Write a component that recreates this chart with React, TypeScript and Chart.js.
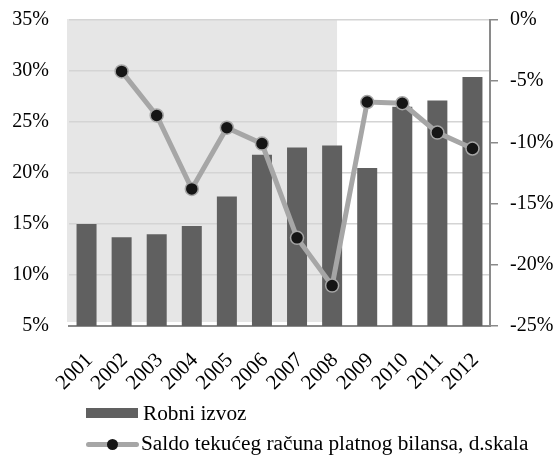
import React, { useEffect, useRef } from "react";
import { Chart, registerables } from "chart.js";

Chart.register(...registerables);

const years = ["2001", "2002", "2003", "2004", "2005", "2006", "2007", "2008", "2009", "2010", "2011", "2012"];
const robniIzvoz = [15.0, 13.7, 14.0, 14.8, 17.7, 21.8, 22.5, 22.7, 20.5, 26.5, 27.1, 29.4];
const saldo: (number | null)[] = [null, -4.2, -7.8, -13.8, -8.8, -10.1, -17.8, -21.7, -6.7, -6.8, -9.2, -10.5];
const leftTicks = [5, 10, 15, 20, 25, 30, 35];
const rightTicks = [-25, -20, -15, -10, -5, 0];
const shadedFromIndex = -0.5;
const shadedToIndex = 7.14;

const FONT = "'Liberation Serif', 'Times New Roman', serif";
const BAR_COLOR = "#606060";
const LINE_COLOR = "#a6a6a6";
const AXIS_COLOR = "#8a8a8a";

const shadePlugin = {
  id: "shade",
  beforeDraw(chart: any) {
    const { ctx, chartArea, scales } = chart;
    const x = scales.x;
    const x0 = x.getPixelForValue(shadedFromIndex) - 2;
    const x1 = x.getPixelForValue(shadedToIndex);
    ctx.save();
    ctx.fillStyle = "#e6e6e6";
    ctx.fillRect(x0, chartArea.top - 1, x1 - x0, chartArea.bottom - chartArea.top - 3);
    ctx.restore();
  },
};

export default function App() {
  const ref = useRef<HTMLCanvasElement | null>(null);

  useEffect(() => {
    if (!ref.current) return;
    const chart = new Chart(ref.current, {
      type: "bar",
      data: {
        labels: years,
        datasets: [
          {
            type: "line",
            label: "Saldo tekućeg računa platnog bilansa, d.skala",
            data: saldo,
            yAxisID: "y1",
            borderColor: LINE_COLOR,
            borderWidth: 5,
            pointRadius: 6.5,
            pointBackgroundColor: "#151515",
            pointBorderColor: LINE_COLOR,
            pointBorderWidth: 1.5,
            tension: 0,
            order: 1,
          } as any,
          {
            type: "bar",
            label: "Robni izvoz",
            data: robniIzvoz,
            yAxisID: "y",
            backgroundColor: BAR_COLOR,
            categoryPercentage: 1,
            barPercentage: 0.57,
            order: 2,
          },
        ],
      },
      options: {
        animation: false,
        responsive: true,
        maintainAspectRatio: false,
        layout: { padding: { top: 20, left: 0, right: 0, bottom: 0 } },
        plugins: { legend: { display: false }, tooltip: { enabled: false } },
        font: { family: FONT },
        scales: {
          x: {
            grid: { display: false },
            border: { display: true, color: AXIS_COLOR, width: 2 },
            ticks: {
              font: { family: FONT, size: 21 },
              color: "#000",
              maxRotation: 45,
              minRotation: 45,
              padding: 14,
              labelOffset: 3,
              autoSkip: false,
            },
            afterFit: (s: any) => {
              s.height = 131;
              s.paddingLeft = 0;
              s.paddingRight = 0;
            },
          },
          y: {
            position: "left",
            min: 5,
            max: 35,
            afterBuildTicks: (s: any) => {
              s.ticks = leftTicks.map((v) => ({ value: v }));
            },
            grid: { color: "#d4d4d4", lineWidth: 1.5, drawTicks: false },
            border: { display: false },
            ticks: {
              font: { family: FONT, size: 20 },
              color: "#000",
              padding: 20,
              callback: (v: any) => v + "%",
            },
            afterFit: (s: any) => {
              s.width = 69;
              s.paddingTop = 0;
              s.paddingBottom = 0;
            },
          },
          y1: {
            position: "right",
            min: -25,
            max: 0,
            afterBuildTicks: (s: any) => {
              s.ticks = rightTicks.map((v) => ({ value: v }));
            },
            grid: { drawOnChartArea: false, drawTicks: true, tickLength: 8, color: AXIS_COLOR, lineWidth: 1.5 },
            border: { display: true, color: AXIS_COLOR, width: 2 },
            ticks: {
              font: { family: FONT, size: 20 },
              color: "#000",
              padding: 12,
              callback: (v: any) => v + "%",
            },
            afterFit: (s: any) => {
              s.width = 66;
              s.paddingTop = 0;
              s.paddingBottom = 0;
            },
          },
        },
      } as any,
      plugins: [shadePlugin],
    });
    return () => chart.destroy();
  }, []);

  const legendText: React.CSSProperties = {
    position: "absolute",
    left: 143,
    fontFamily: FONT,
    fontSize: 21.3,
    color: "#000",
    lineHeight: "24px",
    whiteSpace: "nowrap",
  };

  return (
    <div style={{ position: "absolute", left: 0, top: 0, width: 556, height: 457, background: "#fff" }}>
      <canvas ref={ref} style={{ position: "absolute", left: 0, top: 0 }} />
      <div style={{ position: "absolute", left: 86, top: 408, width: 52, height: 10, background: BAR_COLOR }} />
      <div style={{ ...legendText, top: 401 }}>Robni izvoz</div>
      <div
        style={{
          position: "absolute",
          left: 86,
          top: 442,
          width: 53,
          height: 5,
          borderRadius: 3,
          background: LINE_COLOR,
        }}
      />
      <div
        style={{
          position: "absolute",
          left: 107,
          top: 439,
          width: 11,
          height: 11,
          borderRadius: 6,
          background: "#151515",
        }}
      />
      <div style={{ ...legendText, left: 141, top: 431 }}>Saldo tekućeg računa platnog bilansa, d.skala</div>
    </div>
  );
}
